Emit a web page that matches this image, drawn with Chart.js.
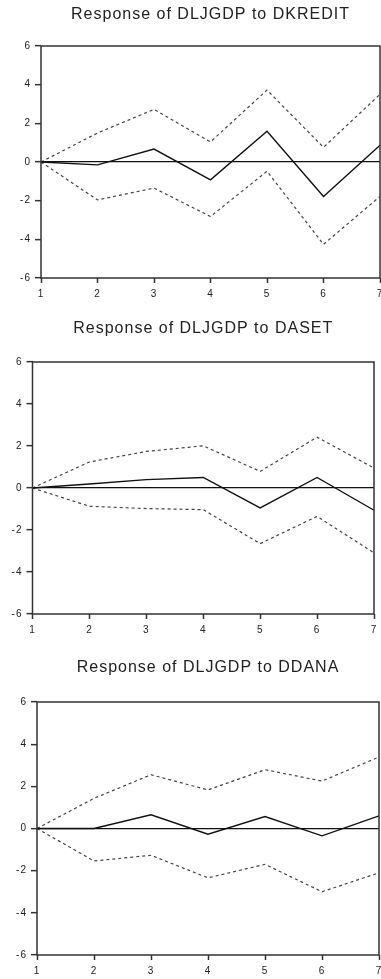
<!DOCTYPE html>
<html>
<head>
<meta charset="utf-8">
<script src="https://cdn.jsdelivr.net/npm/chart.js@4/dist/chart.umd.min.js"></script>
<style>
  body { margin: 0; background: #fff; width: 381px; height: 979px; position: relative; overflow: hidden; }
  canvas { position: absolute; left: 0; }
</style>
</head>
<body>
<canvas id="c1" width="381" height="300" style="top:0px"></canvas>
<canvas id="c2" width="381" height="336" style="top:300px"></canvas>
<canvas id="c3" width="381" height="337" style="top:640px"></canvas>
<script>
// horizon periods and y ticks
const periods = ['1', '2', '3', '4', '5', '6', '7'];
const yMin = -6;
const yMax = 6;
const yStep = 2;

// Response of DLJGDP to DKREDIT
const kreditResp  = [0, -0.15, 0.67, -0.92, 1.59, -1.78, 0.87];
const kreditUpper = [0, 1.5, 2.72, 1.04, 3.72, 0.76, 3.5];
const kreditLower = [0, -1.96, -1.35, -2.82, -0.48, -4.26, -1.78];

// Response of DLJGDP to DASET
const asetResp  = [0, 0.19, 0.4, 0.5, -0.95, 0.5, -1.06];
const asetUpper = [0, 1.24, 1.74, 2.01, 0.79, 2.42, 0.95];
const asetLower = [0, -0.87, -0.98, -1.03, -2.65, -1.35, -3.09];

// Response of DLJGDP to DDANA
const danaResp  = [0, 0, 0.65, -0.27, 0.57, -0.35, 0.6];
const danaUpper = [0, 1.43, 2.55, 1.83, 2.79, 2.25, 3.39];
const danaLower = [0, -1.54, -1.27, -2.34, -1.7, -3.0, -2.1];

const FONT = 'Liberation Sans, Arial, sans-serif';

// box around the plot area (top and right sides included)
const frame = {
    id: 'frame',
    beforeDraw(chart) {
        // the original text is set a little wider
        chart.ctx.letterSpacing = '1px';
    },
    afterDatasetsDraw(chart) {
        const a = chart.chartArea;
        const ctx = chart.ctx;
        ctx.save();
        ctx.strokeStyle = '#333';
        ctx.lineWidth = 1.5;
        ctx.strokeRect(a.left, a.top, a.right - a.left, a.bottom - a.top);
        ctx.restore();
    },
    afterDraw(chart) {
        chart.ctx.letterSpacing = '0px';
    }
};

function makePanel(id, title, resp, upper, lower, g) {
    const dashed = data => ({
        data: data,
        borderColor: '#444',
        borderWidth: 1.2,
        borderDash: [3, 3],
        pointRadius: 0,
        tension: 0,
        fill: false
    });

    return new Chart(document.getElementById(id), {
        type: 'line',
        data: {
            labels: periods,
            datasets: [
                { data: resp, borderColor: '#111', borderWidth: 1.4, pointRadius: 0, tension: 0, fill: false },
                dashed(upper),
                dashed(lower)
            ]
        },
        plugins: [frame],
        options: {
            responsive: false,
            animation: false,
            layout: { padding: { left: 0, right: g.right, top: 0, bottom: 0 } },
            plugins: {
                legend: { display: false },
                tooltip: { enabled: false },
                title: {
                    display: true,
                    text: title,
                    fullSize: false,
                    color: '#222',
                    font: { family: FONT, size: 16, weight: 'normal', lineHeight: 1.2 },
                    padding: { top: g.titleTop, bottom: g.titleBottom }
                }
            },
            scales: {
                x: {
                    offset: false,
                    border: { display: false },
                    grid: { drawOnChartArea: false, drawTicks: true, tickLength: 5, tickColor: '#333', tickWidth: 1.5 },
                    ticks: { color: '#222', font: { family: FONT, size: 10 }, padding: 5, autoSkip: false, maxRotation: 0 },
                    afterFit(scale) {
                        scale.height = 22;
                        scale.paddingLeft = 0;
                        scale.paddingRight = 0;
                    }
                },
                y: {
                    min: yMin,
                    max: yMax,
                    border: { display: false },
                    grid: {
                        drawOnChartArea: true,
                        color: c => (c.tick && c.tick.value === 0) ? '#111' : 'rgba(0,0,0,0)',
                        lineWidth: 1.3,
                        tickLength: 6,
                        tickColor: '#333',
                        tickWidth: 1.5
                    },
                    ticks: { stepSize: yStep, color: '#222', font: { family: FONT, size: 10 }, padding: 4 },
                    afterFit(scale) {
                        scale.width = g.left;
                        scale.paddingTop = 0;
                        scale.paddingBottom = 0;
                    }
                }
            }
        }
    });
}

makePanel('c1', 'Response of DLJGDP to DKREDIT', kreditResp, kreditUpper, kreditLower,
    { left: 41, right: 1, titleTop: 5.4, titleBottom: 21.4 });
makePanel('c2', 'Response of DLJGDP to DASET', asetResp, asetUpper, asetLower,
    { left: 32.5, right: 7, titleTop: 19.4, titleBottom: 23.4 });
makePanel('c3', 'Response of DLJGDP to DDANA', danaResp, danaUpper, danaLower,
    { left: 37, right: 2, titleTop: 18.4, titleBottom: 24.4 });
</script>
</body>
</html>
